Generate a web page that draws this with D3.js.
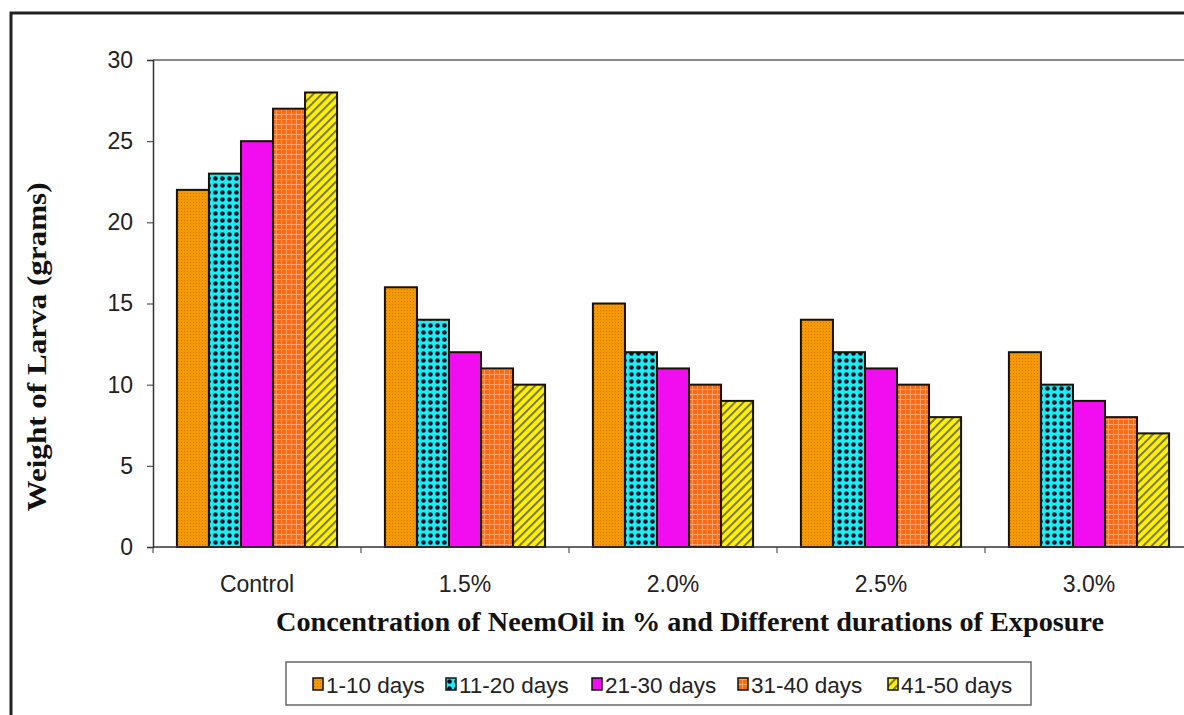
<!DOCTYPE html>
<html>
<head>
<meta charset="utf-8">
<script src="https://cdn.jsdelivr.net/npm/d3@7"></script>
<style>
  html, body { margin: 0; padding: 0; background: #fff; }
  svg { display: block; }
</style>
</head>
<body>
<svg id="chart" width="1184" height="715"></svg>
<script>
// Larva weight by neem oil concentration and exposure duration
const categories = ["Control", "1.5%", "2.0%", "2.5%", "3.0%"];
const seriesNames = ["1-10 days", "11-20 days", "21-30 days", "31-40 days", "41-50 days"];
const days1to10  = [22, 16, 15, 14, 12];
const days11to20 = [23, 14, 12, 12, 10];
const days21to30 = [25, 12, 11, 11, 9];
const days31to40 = [27, 11, 10, 10, 8];
const days41to50 = [28, 10, 9, 8, 7];
const yTicks = [0, 5, 10, 15, 20, 25, 30];

const seriesValues = [days1to10, days11to20, days21to30, days31to40, days41to50];

const svg = d3.select("#chart");
const W = 1184, H = 715;
const SANS = "Liberation Sans, Arial, sans-serif";
const SERIF = "Liberation Serif, Times New Roman, serif";

const plot = { left: 153, top: 60, bottom: 547, right: 153 + 5 * 208 };

const x = d3.scaleBand().domain(categories).range([plot.left, plot.right]).paddingInner(0.23).paddingOuter(0.115);
const xCat = d3.scaleBand().domain(categories).range([plot.left, plot.right]);
const xs = d3.scaleBand().domain(seriesNames).range([0, x.bandwidth()]);
const y = d3.scaleLinear().domain([0, 30]).range([plot.bottom, plot.top]);

// Fill patterns for each series
const defs = svg.append("defs");

const p1 = defs.append("pattern").attr("id", "pat0").attr("patternUnits", "userSpaceOnUse")
  .attr("width", 3).attr("height", 3);
p1.append("rect").attr("width", 3).attr("height", 3).attr("fill", "#F39A00");
p1.append("rect").attr("x", 1).attr("y", 1).attr("width", 1).attr("height", 1).attr("fill", "#E07000");

const p2 = defs.append("pattern").attr("id", "pat1").attr("patternUnits", "userSpaceOnUse")
  .attr("width", 7).attr("height", 7);
p2.append("rect").attr("width", 7).attr("height", 7).attr("fill", "#19F0F0");
p2.append("circle").attr("cx", 3.5).attr("cy", 3.5).attr("r", 2.3).attr("fill", "#0a0a2a");

const p3 = defs.append("pattern").attr("id", "pat2").attr("patternUnits", "userSpaceOnUse")
  .attr("width", 4).attr("height", 4);
p3.append("rect").attr("width", 4).attr("height", 4).attr("fill", "#F20CF0");

const p4 = defs.append("pattern").attr("id", "pat3").attr("patternUnits", "userSpaceOnUse")
  .attr("width", 5).attr("height", 5);
p4.append("rect").attr("width", 5).attr("height", 5).attr("fill", "#FF6A10");
p4.append("rect").attr("x", 0).attr("y", 4).attr("width", 5).attr("height", 1).attr("fill", "#FFA070");
p4.append("rect").attr("x", 4).attr("y", 0).attr("width", 1).attr("height", 5).attr("fill", "#FFA070");

const p5 = defs.append("pattern").attr("id", "pat4").attr("patternUnits", "userSpaceOnUse")
  .attr("width", 6).attr("height", 6).attr("patternTransform", "rotate(-45)");
p5.append("rect").attr("width", 6).attr("height", 6).attr("fill", "#FFF000");
p5.append("rect").attr("x", 0).attr("y", 0).attr("width", 6).attr("height", 1.8).attr("fill", "#6E6A30");

// Outer frame
svg.append("rect").attr("x", 11).attr("y", 13).attr("width", W + 20).attr("height", H + 20)
  .attr("fill", "none").attr("stroke", "#222").attr("stroke-width", 3);

// Plot area top border
svg.append("line").attr("x1", plot.left).attr("x2", W + 5).attr("y1", plot.top).attr("y2", plot.top)
  .attr("stroke", "#888").attr("stroke-width", 2);

// Bars
const groups = svg.append("g").selectAll("g").data(categories).join("g")
  .attr("transform", d => `translate(${x(d)},0)`);

groups.selectAll("rect")
  .data((c, ci) => seriesNames.map((s, si) => ({ s, si, v: seriesValues[si][ci] })))
  .join("rect")
  .attr("x", d => xs(d.s))
  .attr("y", d => y(d.v))
  .attr("width", xs.bandwidth())
  .attr("height", d => y(0) - y(d.v))
  .attr("fill", d => `url(#pat${d.si})`)
  .attr("stroke", "#1a1208")
  .attr("stroke-width", 2);

// Y axis
const yAxis = d3.axisLeft(y).tickValues(yTicks).tickSize(6).tickPadding(14);
const gy = svg.append("g").attr("transform", `translate(${plot.left},0)`).call(yAxis);
gy.attr("font-size", null).attr("font-family", null);
gy.select(".domain").attr("stroke", "#333").attr("stroke-width", 1.5);
gy.selectAll(".tick line").attr("stroke", "#333");
gy.selectAll("text")
  .style("font-family", SANS).style("font-size", "23px")
  .attr("fill", "#222");

// X axis: tick marks at category boundaries
const gx = svg.append("g").attr("transform", `translate(0,${plot.bottom})`);
gx.append("line").attr("x1", plot.left).attr("x2", W + 5).attr("y1", 0).attr("y2", 0)
  .attr("stroke", "#333").attr("stroke-width", 1.5);
gx.selectAll("line.tk").data(categories).join("line").attr("class", "tk")
  .attr("x1", d => xCat(d)).attr("x2", d => xCat(d))
  .attr("y1", 0).attr("y2", 6).attr("stroke", "#333");
gx.selectAll("text").data(categories).join("text")
  .attr("x", d => xCat(d) + xCat.bandwidth() / 2)
  .attr("y", 45)
  .attr("text-anchor", "middle")
  .style("font-family", SANS).style("font-size", "23px")
  .attr("fill", "#222")
  .text(d => d);

// Axis titles
svg.append("text")
  .attr("transform", `translate(46,${347}) rotate(-90)`)
  .attr("text-anchor", "middle")
  .style("font-family", SERIF).style("font-weight", "bold").style("font-size", "27px")
  .attr("fill", "#111")
  .attr("textLength", 329).attr("lengthAdjust", "spacingAndGlyphs")
  .text("Weight of Larva (grams)");

svg.append("text")
  .attr("x", 690).attr("y", 631)
  .attr("text-anchor", "middle")
  .style("font-family", SERIF).style("font-weight", "bold").style("font-size", "27px")
  .attr("fill", "#111")
  .attr("textLength", 828).attr("lengthAdjust", "spacingAndGlyphs")
  .text("Concentration of NeemOil in % and Different durations of Exposure");

// Legend
const legend = svg.append("g");
legend.append("rect").attr("x", 286).attr("y", 662).attr("width", 745).attr("height", 43)
  .attr("fill", "#fff").attr("stroke", "#666").attr("stroke-width", 1.5);
const legendX = [313, 446, 592, 738, 888];
const items = legend.selectAll("g").data(seriesNames).join("g")
  .attr("transform", (d, i) => `translate(${legendX[i]},685)`);
items.append("rect").attr("x", 0).attr("y", -7).attr("width", 10).attr("height", 12)
  .attr("fill", (d, i) => `url(#pat${i})`).attr("stroke", "#111").attr("stroke-width", 1.5);
items.append("text").attr("x", 13).attr("y", 8)
  .style("font-family", SANS).style("font-size", "22.5px")
  .attr("fill", "#222")
  .text(d => d);
</script>
</body>
</html>
